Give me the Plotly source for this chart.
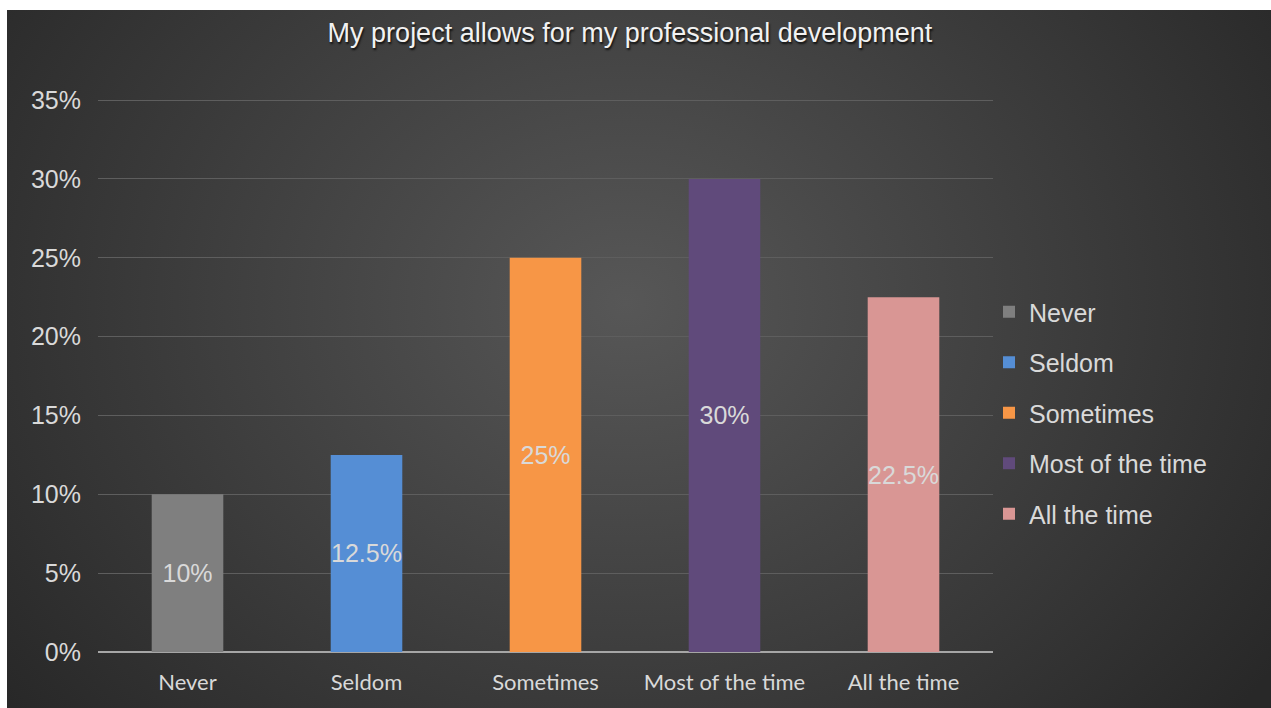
import base64
import plotly.graph_objects as go

# Survey responses
categories = ["Never", "Seldom", "Sometimes", "Most of the time", "All the time"]
shares = [0.10, 0.125, 0.25, 0.30, 0.225]
bar_colors = ["#7f7f7f", "#558ed5", "#f79646", "#604a7b", "#d99694"]
y_tick_values = [0, 0.05, 0.10, 0.15, 0.20, 0.25, 0.30, 0.35]
y_tick_labels = ["0%", "5%", "10%", "15%", "20%", "25%", "30%", "35%"]
title_text = "My project allows for my professional development"

W, H = 1271, 708
Y_MAX = 0.352
M_L, M_R, M_T, M_B = 98, 278, 97, 56
plot_w = W - M_L - M_R
plot_h = H - M_T - M_B

# Dark radial background panel (leaves a thin white strip at top and left)
panel_left, panel_top = 7, 10
svg = (
    '<svg xmlns="http://www.w3.org/2000/svg" width="1264" height="698" '
    'viewBox="0 0 1264 698" preserveAspectRatio="none">'
    '<defs><radialGradient id="g" cx="0.49" cy="0.42" r="0.62" '
    'gradientTransform="translate(0.49 0.42) scale(1 1.5) translate(-0.49 -0.42)">'
    '<stop offset="0" stop-color="#575757"/>'
    '<stop offset="1" stop-color="#282828"/>'
    '</radialGradient></defs>'
    '<rect width="1264" height="698" fill="url(#g)"/></svg>'
)
bg_src = "data:image/svg+xml;base64," + base64.b64encode(svg.encode()).decode()

fig = go.Figure()
for cat, val, col in zip(categories, shares, bar_colors):
    fig.add_trace(go.Bar(
        x=[cat], y=[val], name=cat, legendgroup=cat,
        marker=dict(color=col, line=dict(width=0)),
        width=0.4,
        texttemplate="%{y:.3~%}",
        textposition="inside",
        insidetextanchor="middle",
        textangle=0,
        constraintext="none",
        textfont=dict(family="Liberation Sans, Arial, sans-serif", size=25, color="#d9d9d9"),
        hoverinfo="skip",
    ))

fig.add_layout_image(dict(
    source=bg_src, xref="paper", yref="paper",
    x=(panel_left - M_L) / plot_w, y=(H - M_B - panel_top) / plot_h,
    sizex=(W - panel_left) / plot_w, sizey=(H - panel_top) / plot_h,
    xanchor="left", yanchor="top", sizing="stretch", layer="below",
))

fig.update_layout(
    width=W, height=H,
    margin=dict(l=M_L, r=M_R, t=M_T, b=M_B, pad=0),
    paper_bgcolor="#ffffff",
    plot_bgcolor="rgba(0,0,0,0)",
    barmode="overlay",
    title=dict(
        text=title_text, x=630 / W, xanchor="center",
        y=1 - 33 / H, yanchor="middle", yref="container",
        font=dict(family="Liberation Sans, Arial, sans-serif", size=27, color="#f2f2f2",
                  shadow="1px 2px 2px #111111"),
    ),
    xaxis=dict(
        showgrid=False, zeroline=False, showline=False, ticks="",
        tickfont=dict(family="Lato, sans-serif", size=22, color="#d9d9d9"),
        ticklabelstandoff=15, fixedrange=True,
    ),
    yaxis=dict(
        range=[0, Y_MAX], tickvals=y_tick_values, ticktext=y_tick_labels,
        showgrid=True, gridcolor="#5e5e5e", gridwidth=1,
        zeroline=True, zerolinecolor="#a6a6a6", zerolinewidth=2,
        showline=False, ticks="",
        tickfont=dict(family="Liberation Sans, Arial, sans-serif", size=25, color="#d9d9d9"),
        ticklabelstandoff=16, fixedrange=True,
    ),
    legend=dict(
        x=(989 - M_L) / plot_w, xanchor="left",
        y=(H - M_B - 413) / plot_h, yanchor="middle",
        font=dict(family="Liberation Sans, Arial, sans-serif", size=25, color="#d9d9d9"),
        bgcolor="rgba(0,0,0,0)", tracegroupgap=15, itemclick=False,
    ),
    showlegend=True,
)

fig.write_html("out.html")
